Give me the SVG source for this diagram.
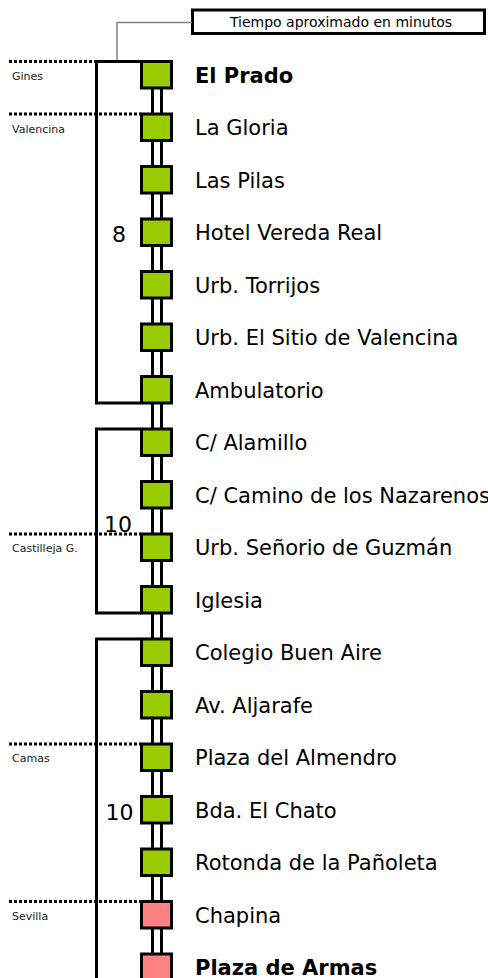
<svg xmlns="http://www.w3.org/2000/svg" width="488" height="978" viewBox="0 0 488 978">
<style>
.bg{fill:#fff}
.track{stroke:#000;stroke-width:3;fill:none}
.bracket{stroke:#000;stroke-width:3;fill:none}
.zone{stroke:#000;stroke-width:3;stroke-dasharray:3 2;fill:none}
.leader{stroke:#808080;stroke-width:1.5;fill:none}
.box{stroke:#000;stroke-width:3}
.g{fill:#99cc00}
.p{fill:#ff8080}
.lbl{font-family:"DejaVu Sans",Verdana,sans-serif;font-size:21px;fill:#000}
.b{font-weight:bold}
.zl{font-family:"DejaVu Sans",Verdana,sans-serif;font-size:11px;fill:#222}
.num{font-family:"DejaVu Sans",Verdana,sans-serif;font-size:22px;fill:#000;text-anchor:middle}
.leg{font-family:"DejaVu Sans",Verdana,sans-serif;font-size:14px;fill:#000;text-anchor:middle}
</style>
<rect class="bg" x="0" y="0" width="488" height="978"/>
<g id="legend">
<rect x="192.5" y="10" width="292" height="23.5" fill="#fff" stroke="#000" stroke-width="3"/>
<text class="leg" x="341" y="26.5">Tiempo aproximado en minutos</text>
</g>
<g id="zones">
<path class="zone" d="M9,61.5 H96"/>
<text class="zl" x="12" y="80">Gines</text>
<path class="zone" d="M9,114 H141"/>
<text class="zl" x="12" y="132.5">Valencina</text>
<path class="zone" d="M9,534 H141"/>
<text class="zl" x="12" y="552">Castilleja G.</text>
<path class="zone" d="M9,744 H141"/>
<text class="zl" x="12" y="762">Camas</text>
<path class="zone" d="M9,901.5 H141"/>
<text class="zl" x="12" y="919.5">Sevilla</text>
</g>
<g id="connectors">
<path class="leader" d="M192,22.5 H117 V61.5"/>
<path class="track" d="M152.5,75 V978 M161.5,75 V978"/>
<path class="bracket" d="M141,61.5 H96.5 V403 H141"/>
<path class="bracket" d="M141,429 H96.5 V613 H141"/>
<path class="bracket" d="M141,639 H96.5 V978"/>
</g>
<g id="times">
<text class="num" x="119" y="241.5">8</text>
<text class="num" x="118" y="532">10</text>
<text class="num" x="119.5" y="819.5">10</text>
</g>
<g id="s0"><rect class="box g" x="141.5" y="61.5" width="30" height="26.5"/><text class="lbl b" x="195" y="82.5">El Prado</text></g>
<g id="s1"><rect class="box g" x="141.5" y="114" width="30" height="26.5"/><text class="lbl" x="195" y="135">La Gloria</text></g>
<g id="s2"><rect class="box g" x="141.5" y="166.5" width="30" height="26.5"/><text class="lbl" x="195" y="187.5">Las Pilas</text></g>
<g id="s3"><rect class="box g" x="141.5" y="219" width="30" height="26.5"/><text class="lbl" x="195" y="240">Hotel Vereda Real</text></g>
<g id="s4"><rect class="box g" x="141.5" y="271.5" width="30" height="26.5"/><text class="lbl" x="195" y="292.5">Urb. Torrijos</text></g>
<g id="s5"><rect class="box g" x="141.5" y="324" width="30" height="26.5"/><text class="lbl" x="195" y="345">Urb. El Sitio de Valencina</text></g>
<g id="s6"><rect class="box g" x="141.5" y="376.5" width="30" height="26.5"/><text class="lbl" x="195" y="397.5">Ambulatorio</text></g>
<g id="s7"><rect class="box g" x="141.5" y="429" width="30" height="26.5"/><text class="lbl" x="195" y="450">C/ Alamillo</text></g>
<g id="s8"><rect class="box g" x="141.5" y="481.5" width="30" height="26.5"/><text class="lbl" x="195" y="502.5">C/ Camino de los Nazarenos</text></g>
<g id="s9"><rect class="box g" x="141.5" y="534" width="30" height="26.5"/><text class="lbl" x="195" y="555">Urb. Señorio de Guzmán</text></g>
<g id="s10"><rect class="box g" x="141.5" y="586.5" width="30" height="26.5"/><text class="lbl" x="195" y="607.5">Iglesia</text></g>
<g id="s11"><rect class="box g" x="141.5" y="639" width="30" height="26.5"/><text class="lbl" x="195" y="660">Colegio Buen Aire</text></g>
<g id="s12"><rect class="box g" x="141.5" y="691.5" width="30" height="26.5"/><text class="lbl" x="195" y="712.5">Av. Aljarafe</text></g>
<g id="s13"><rect class="box g" x="141.5" y="744" width="30" height="26.5"/><text class="lbl" x="195" y="765">Plaza del Almendro</text></g>
<g id="s14"><rect class="box g" x="141.5" y="796.5" width="30" height="26.5"/><text class="lbl" x="195" y="817.5">Bda. El Chato</text></g>
<g id="s15"><rect class="box g" x="141.5" y="849" width="30" height="26.5"/><text class="lbl" x="195" y="870">Rotonda de la Pañoleta</text></g>
<g id="s16"><rect class="box p" x="141.5" y="901.5" width="30" height="26.5"/><text class="lbl" x="195" y="922.5">Chapina</text></g>
<g id="s17"><rect class="box p" x="141.5" y="954" width="30" height="26.5"/><text class="lbl b" x="195" y="975">Plaza de Armas</text></g>
</svg>
